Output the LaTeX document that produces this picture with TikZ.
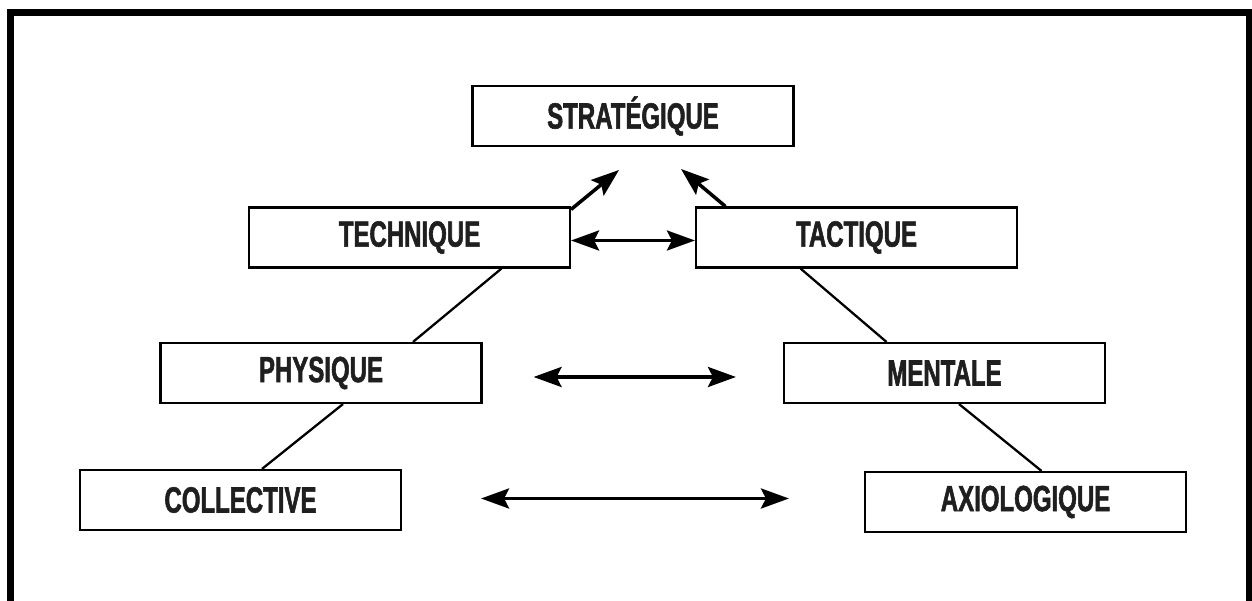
\documentclass[tikz,border=0pt]{standalone}
\usepackage{fontspec}
\setmainfont[FakeStretch=0.66, BoldFeatures={FakeBold=1.5}]{Liberation Sans}
\usetikzlibrary{arrows.meta}

\begin{document}
\begin{tikzpicture}[
    level/.style={draw, line width=1.2pt, minimum width=6.42cm, minimum height=1.2cm,
                  inner sep=0pt, font=\fontsize{20.7}{24}\selectfont\bfseries, text=black!88},
    link/.style={line width=1.3pt},
    up/.style={line width=2pt, -{Stealth[length=0.56cm, width=0.4cm, inset=0.1cm]}},
    both/.style={line width=2pt, {Stealth[length=0.56cm, width=0.4cm, inset=0.1cm]}-{Stealth[length=0.56cm, width=0.4cm, inset=0.1cm]}}
]
\useasboundingbox (0,0) rectangle (25.04,12.02);
% frame
\draw[line width=4pt] (0.21,0) -- (0.21,11.77) -- (24.99,11.77) -- (24.99,0);

    \node[level] (strat) at (12.66,9.70) {STRATÉGIQUE};

    \node[level] (tech) at (8.19,7.27) {TECHNIQUE};
    \node[level] (tact) at (17.13,7.27) {TACTIQUE};

    \node[level] (phys) at (6.42,4.56) {PHYSIQUE};
    \node[level] (ment) at (18.89,4.56) {MENTALE};

    \node[level] (coll) at (4.81,2.02) {COLLECTIVE};
    \node[level] (axio) at (20.51,1.98) {AXIOLOGIQUE};

    \coordinate (tipL) at (12.38,8.62);
    \coordinate (tipR) at (13.62,8.64);

% links
\draw[link] ([xshift=1.84cm]tech.south) -- ([xshift=1.84cm]phys.north);
\draw[link] ([xshift=0.44cm]phys.south) -- ([xshift=0.43cm]coll.north);
\draw[link] ([xshift=-1.12cm]tact.south) -- ([xshift=-1.16cm]ment.north);
\draw[link] ([xshift=0.29cm]ment.south) -- ([xshift=0.32cm]axio.north);

% arrows
\draw[up] ([yshift=-0.06cm]tech.north east) -- (tipL);
\draw[up] ([xshift=0.61cm]tact.north west) -- (tipR);
\draw[both] ([yshift=-0.06cm]tech.east) -- ([yshift=-0.06cm]tact.west);
\draw[both] ([xshift=1.02cm,yshift=-0.08cm]phys.east) -- ([xshift=-0.94cm,yshift=-0.08cm]ment.west);
\draw[both] ([xshift=1.58cm,yshift=0.03cm]coll.east) -- ([xshift=-1.5cm,yshift=0.07cm]axio.west);
\end{tikzpicture}
\end{document}
